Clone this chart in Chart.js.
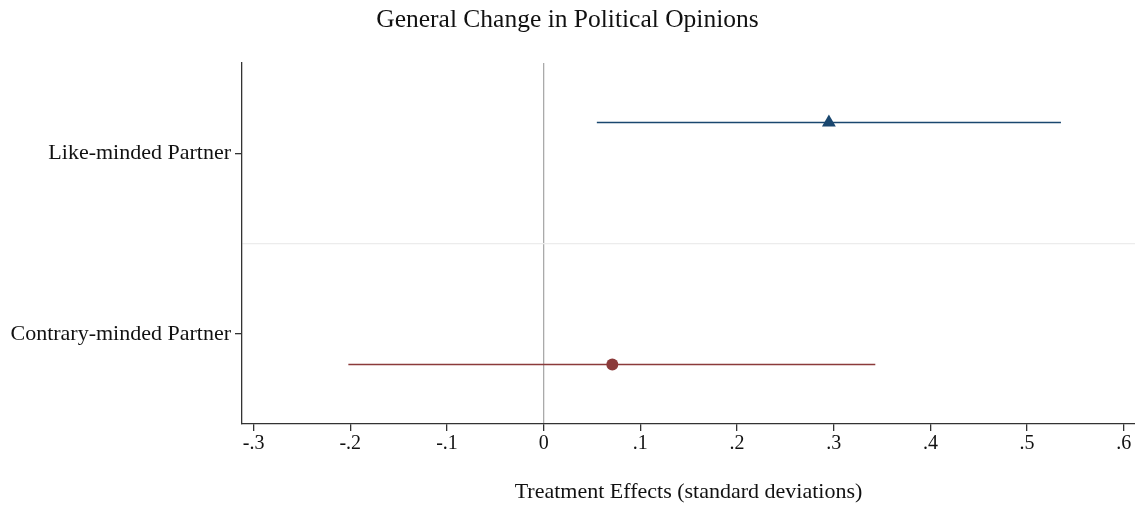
<!DOCTYPE html>
<html>
<head>
<meta charset="utf-8">
<script src="https://cdn.jsdelivr.net/npm/chart.js@4/dist/chart.umd.min.js"></script>
<style>
  html, body { margin: 0; padding: 0; background: #fff; }
  #wrap { width: 1135px; height: 508px; }
</style>
</head>
<body>
<div id="wrap"><canvas id="myChart"></canvas></div>
<script>
// coefficients
const categories = ['Like-minded Partner', 'Contrary-minded Partner'];
const estimates = [0.295, 0.071];
const ciLow = [0.055, -0.202];
const ciHigh = [0.535, 0.343];
const rowY = [1.67, 0.33];          // where each coefficient sits on the y scale
const catTickY = [1.5, 0.5];        // where each category label sits
const colors = ['#1a476f', '#8b3a3a'];
const markers = ['triangle', 'circle'];

const xTickValues = [-0.3, -0.2, -0.1, 0, 0.1, 0.2, 0.3, 0.4, 0.5, 0.6];
const xTickLabels = ['-.3', '-.2', '-.1', '0', '.1', '.2', '.3', '.4', '.5', '.6'];

const serif = "'Liberation Serif', 'DejaVu Serif', serif";

let datasets = [];
categories.forEach((c, i) => {
  datasets.push({
    type: 'scatter',
    label: c,
    data: [{ x: estimates[i], y: rowY[i] }],
    pointStyle: markers[i],
    pointRadius: markers[i] === 'triangle' ? 8 : 6,
    backgroundColor: colors[i],
    borderColor: colors[i],
    borderWidth: 0,
    order: 0
  });
  datasets.push({
    type: 'line',
    label: c + ' CI',
    data: [{ x: ciLow[i], y: rowY[i] }, { x: ciHigh[i], y: rowY[i] }],
    borderColor: colors[i],
    borderWidth: 1.6,
    pointRadius: 0,
    fill: false,
    order: 1
  });
});

// y tick positions: the two category labels plus the separator line
const yTicks = [catTickY[1], 1, catTickY[0]];
const yLabels = [categories[1], '', categories[0]];

new Chart(document.getElementById('myChart').getContext('2d'), {
  data: { datasets: datasets },
  options: {
    responsive: true,
    maintainAspectRatio: false,
    animation: false,
    layout: { padding: 0, autoPadding: false },
    plugins: {
      legend: { display: false },
      tooltip: { enabled: false },
      title: {
        display: true,
        text: 'General Change in Political Opinions',
        color: '#111',
        font: { family: serif, size: 25.5, weight: 'normal', lineHeight: 1.2 },
        padding: { top: 5, bottom: 27.4 }
      }
    },
    scales: {
      x: {
        type: 'linear',
        min: -0.312,
        max: 0.6116,
        afterBuildTicks: (scale) => { scale.ticks = xTickValues.map(v => ({ value: v })); },
        afterFit: (scale) => { scale.height = 84; },
        ticks: {
          color: '#111',
          padding: 1,
          maxRotation: 0,
          autoSkip: false,
          font: { family: serif, size: 20 },
          callback: (v, i) => xTickLabels[i]
        },
        grid: {
          drawTicks: true,
          tickLength: 7,
          color: (ctx) => (ctx.tick && ctx.tick.value === 0) ? '#aaaaaa' : 'transparent',
          tickColor: '#333',
          lineWidth: 1.3
        },
        border: { display: true, color: '#333', width: 1.3 },
        title: {
          display: true,
          text: 'Treatment Effects (standard deviations)',
          color: '#111',
          font: { family: serif, size: 22, lineHeight: 1.2 },
          padding: { top: 0, bottom: 3 }
        }
      },
      y: {
        type: 'linear',
        min: 0,
        max: 2,
        afterBuildTicks: (scale) => { scale.ticks = yTicks.map(v => ({ value: v })); },
        afterFit: (scale) => { scale.width = 242; },
        ticks: {
          color: '#111',
          padding: 4,
          autoSkip: false,
          font: { family: serif, size: 22 },
          callback: (v, i) => yLabels[i]
        },
        grid: {
          drawTicks: true,
          tickLength: 7,
          color: (ctx) => (ctx.tick && ctx.tick.value === 1) ? '#ececec' : 'transparent',
          tickColor: (ctx) => (ctx.tick && ctx.tick.value === 1) ? 'transparent' : '#333',
          lineWidth: 1.3
        },
        border: { display: true, color: '#333', width: 1.3 }
      }
    }
  }
});
</script>
</body>
</html>
